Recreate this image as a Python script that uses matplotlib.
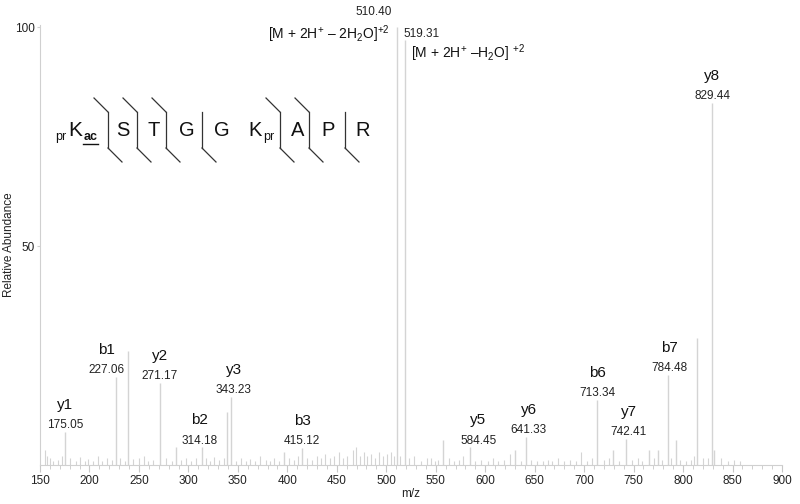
import matplotlib
matplotlib.use("Agg")
import matplotlib.pyplot as plt
from matplotlib.lines import Line2D

plt.rcParams["font.family"] = ["Liberation Sans", "DejaVu Sans"]
plt.rcParams["mathtext.fontset"] = "custom"
plt.rcParams["mathtext.rm"] = "Liberation Sans"
plt.rcParams["mathtext.it"] = "Liberation Sans"
plt.rcParams["mathtext.bf"] = "Liberation Sans:bold"

# labelled fragment ions
ion_names = ["y1", "b1", "y2", "b2", "y3", "b3", "y5", "y6", "b6", "y7", "b7", "y8"]
ion_mz = [175.05, 227.06, 271.17, 314.18, 343.23, 415.12, 584.45, 641.33, 713.34, 742.41, 784.48, 829.44]
ion_int = [7.5, 20.0, 18.7, 4.0, 15.5, 3.8, 4.0, 6.4, 14.8, 6.0, 20.5, 82.6]

# precursor-related peaks
prec_mz = [510.40, 519.31]
prec_int = [100.0, 97.0]

# other unlabelled peaks
other_mz = [239.0, 287.6, 339.0, 397.0, 557.0, 793.0, 814.5, 831.5, 766.0, 775.0, 729.0, 630.0]
other_int = [26.0, 4.2, 12.0, 3.0, 5.7, 5.7, 29.0, 3.5, 3.5, 3.5, 3.5, 3.5]

noise_mz = [155, 157, 160, 163, 168, 172, 180, 186, 190, 195, 199, 204, 209, 213, 218, 223,
            231, 236, 244, 250, 255, 259, 264, 277, 283, 293, 298, 303, 308, 318, 322, 326,
            331, 336, 348, 353, 358, 362, 367, 372, 378, 382, 387, 392, 402, 407, 411, 420,
            425, 430, 434, 438, 443, 447, 452, 456, 460, 466, 469, 473, 477, 481, 485, 489,
            493, 497, 501, 505, 508, 514, 523, 528, 535, 541, 545, 549, 552, 563, 568, 574,
            578, 590, 596, 603, 608, 613, 619, 625, 636, 646, 652, 658, 663, 668, 674, 680,
            686, 692, 697, 703, 708, 720, 725, 735, 748, 754, 758, 771, 779, 788, 797, 803,
            808, 811, 820, 825, 838, 845, 851, 858]
noise_int = [3.5, 2, 1.5, 1, 1.2, 2, 1.5, 1, 1.8, 1, 1.3, 1, 2, 1, 1.5, 1.2,
             1.5, 1, 1.3, 1.5, 2, 1, 1.2, 1.5, 1, 1.2, 1.5, 1, 1.5, 1.5, 1, 1.8,
             1.2, 1.5, 1, 1.5, 1, 1.3, 1, 2, 1.2, 1, 1.5, 1, 1.5, 1.2, 2, 1.5,
             1.2, 2, 1.5, 2.5, 1.5, 2, 3, 1.5, 2, 3.5, 4, 2, 3, 2, 2.5, 1.5,
             3, 2, 2.5, 3, 2, 2, 1.5, 2, 1, 1.5, 1.5, 1, 1.2, 1.5, 1, 1.2,
             2, 1, 1.2, 1, 1.5, 1, 1.2, 2.5, 1, 1.2, 1, 1, 1.2, 1, 1.5, 1,
             1.2, 1, 3, 1, 1.5, 1.2, 1.5, 1, 1.2, 1.5, 1, 1.5, 1.2, 1.5, 1.2, 1,
             1.2, 2, 1.5, 1.5, 1.5, 1, 1.2, 1]

W, H = 800, 504
fig = plt.figure(figsize=(8, 5.04), dpi=100)
ax = fig.add_axes([40 / W, 1 - 465 / H, 742 / W, 440 / H])


def px(x, y):
    return x / W, 1 - y / H


peak_col = "#d4d4d4"
ax.vlines(noise_mz, 0, noise_int, color=peak_col, lw=0.8)
ax.vlines(other_mz, 0, other_int, color=peak_col, lw=1)
ax.vlines(prec_mz, 0, prec_int, color=peak_col, lw=1)
ax.vlines(ion_mz, 0, ion_int, color=peak_col, lw=1)

ax.set_xlim(150, 900)
ax.set_ylim(0, 100.5)
ax.set_xticks(range(150, 901, 50))
ax.set_xticks(range(150, 901, 10), minor=True)
ax.set_yticks([50, 100])
for s in ["top", "right"]:
    ax.spines[s].set_visible(False)
for s in ["left", "bottom"]:
    ax.spines[s].set_color("#d0d0d0")
    ax.spines[s].set_linewidth(0.8)
ax.tick_params(axis="x", which="both", direction="out", colors="#c8c8c8",
               labelcolor="#222222", labelsize=8.5, pad=2)
ax.tick_params(axis="x", which="major", length=5)
ax.tick_params(axis="x", which="minor", length=3)
ax.tick_params(axis="y", length=2, colors="#d0d0d0", labelcolor="#222222",
               labelsize=8.5, pad=2)
ax.set_xlabel("m/z", fontsize=8.5, color="#222222", labelpad=1)
fig.text(*px(9, 245), "Relative Abundance", rotation=90, ha="center", va="center",
         fontsize=8.5, color="#222222")

# nudge of labels in points
nudge = {"b1": -7, "y3": 2, "b2": -2, "y5": 6, "y6": 2, "y7": 2, "b7": 1}
for name, mz, h in zip(ion_names, ion_mz, ion_int):
    dx = nudge.get(name, 0)
    ax.annotate(f"{mz:.2f}", (mz, h), xytext=(dx, 5), textcoords="offset points",
                ha="center", va="center", fontsize=8.5, color="#222222")
    ax.annotate(name, (mz, h), xytext=(dx, 19.5), textcoords="offset points",
                ha="center", va="center", fontsize=11, color="#111111")

# precursor labels
fig.text(*px(374, 12), "510.40", ha="center", va="center", fontsize=8.5, color="#222222")
fig.text(*px(390, 34), r"[M + 2H$^{+}$ – 2H$_{2}$O]$^{+2}$", ha="right", va="center",
         fontsize=10, color="#111111")
fig.text(*px(403, 34), "519.31", ha="left", va="center", fontsize=8.5, color="#222222")
fig.text(*px(411, 53), r"[M + 2H$^{+}$ –H$_{2}$O] $^{+2}$", ha="left", va="center",
         fontsize=10, color="#111111")

# peptide sequence with fragmentation marks
tc = "#111111"
fig.text(*px(61, 137), "pr", ha="center", va="center", fontsize=9, color=tc)
fig.text(*px(75, 130), "K", ha="center", va="center", fontsize=15, color=tc)
fig.text(*px(90.5, 137), "ac", ha="center", va="center", fontsize=9, color=tc, weight="bold")
fig.add_artist(Line2D([px(83, 0)[0], px(98, 0)[0]], [px(0, 144)[1]] * 2, color=tc, lw=1))
letters = ["S", "T", "G", "G", "K", "A", "P", "R"]
letter_x = [123, 154, 187, 222, 255, 298, 328, 363]
for ch, x in zip(letters, letter_x):
    fig.text(*px(x, 130), ch, ha="center", va="center", fontsize=14.5, color=tc)
fig.text(*px(269, 137), "pr", ha="center", va="center", fontsize=9, color=tc)

cut_x = [108, 137, 166, 202, 280, 309, 345]
has_b = [True, True, True, False, True, True, False]
lc = "#333333"
for x, b in zip(cut_x, has_b):
    xs, ys = zip(px(x, 112), px(x, 148))
    fig.add_artist(Line2D(xs, ys, color=lc, lw=0.9))
    xs, ys = zip(px(x, 148), px(x + 14, 162))
    fig.add_artist(Line2D(xs, ys, color=lc, lw=0.9))
    if b:
        xs, ys = zip(px(x - 14, 98), px(x, 112))
        fig.add_artist(Line2D(xs, ys, color=lc, lw=0.9))

fig.savefig("out.png", dpi=100)
